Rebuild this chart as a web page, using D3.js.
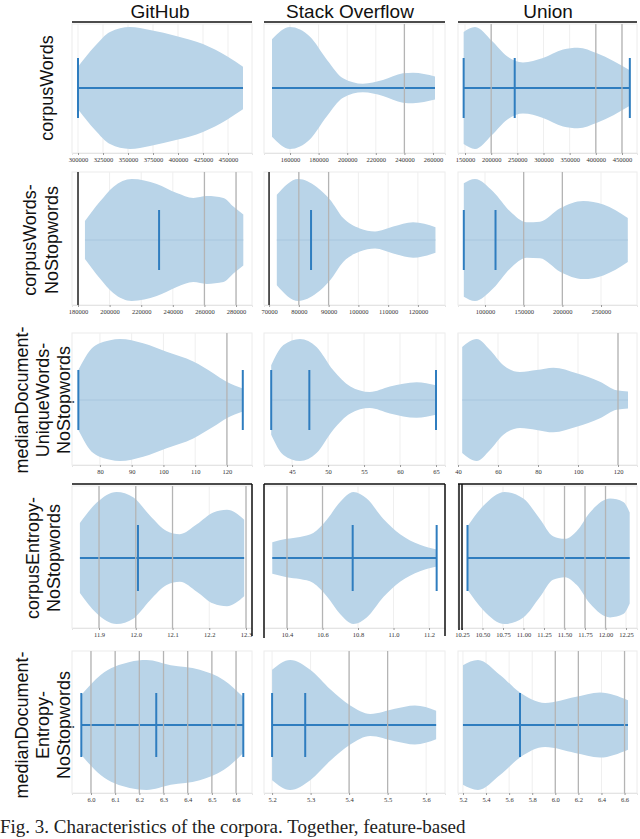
<!DOCTYPE html>
<html><head><meta charset="utf-8">
<script src="https://cdn.jsdelivr.net/npm/d3@7"></script>
<style>body{margin:0;background:#fff}</style>
</head><body><svg id="c" width="640" height="839"></svg>
<script>
const columns = ["GitHub", "Stack Overflow", "Union"];
const rowLabels = [
  ["corpusWords"],
  ["corpusWords-", "NoStopwords"],
  ["medianDocument-", "UniqueWords-", "NoStopwords"],
  ["corpusEntropy-", "NoStopwords"],
  ["medianDocument-", "Entropy-", "NoStopwords"]
];
const caption = "Fig. 3. Characteristics of the corpora. Together, feature-based";

// ---- row 1: corpusWords  [GitHub, Stack Overflow, Union]
const limitsRow1 = [[294000, 474000], [141800, 268400], [136600, 478700]];
const ticksRow1 = [["300000","325000","350000","375000","400000","425000","450000"],
                   ["160000","180000","200000","220000","240000","260000"],
                   ["150000","200000","250000","300000","350000","400000","450000"]];
const valuesRow1 = [[300000,317000,332000,352000,372000,399000,425000,449000,465000],
                    [147400,160000,174000,185900,197100,211000,225000,239000,246000,261400],
                    [147400,169100,201600,230300,260800,299000,337300,365900,402200,465000]];
const densityRow1 = [[0.35,0.69,0.92,1.0,0.95,0.85,0.72,0.52,0.35],
                     [0.8,1.0,0.84,0.46,0.16,0.07,0.13,0.24,0.25,0.19],
                     [0.92,1.0,0.77,0.52,0.42,0.49,0.63,0.66,0.57,0.29]];
const barsRow1 = [[300000], [], [147400, 245000, 465000]];
const greyRow1 = [[], [240000], [200000, 400000, 450000]];
const darkRow1 = [[], [], []];

// ---- row 2: corpusWordsNoStopwords
const limitsRow2 = [[176200, 290100], [68300, 129100], [65100, 296500]];
const ticksRow2 = [["180000","200000","220000","240000","260000","280000"],
                   ["70000","80000","90000","100000","110000","120000"],
                   ["100000","150000","200000","250000"]];
const valuesRow2 = [[184400,193900,202300,214000,229800,242500,253000,261500,272000,278300,284600],
                    [72600,79800,86000,90500,94900,100500,105600,111700,118400,125900],
                    [72600,87100,110700,132300,153900,171100,197000,227100,253000,284600]];
const densityRow2 = [[0.31,0.63,0.87,1.0,0.92,0.77,0.69,0.72,0.69,0.55,0.42],
                     [0.74,1.0,0.87,0.66,0.36,0.19,0.14,0.22,0.29,0.21],
                     [0.93,1.0,0.79,0.47,0.29,0.3,0.52,0.64,0.58,0.36]];
const barsRow2 = [[231300], [84100], [72600, 113600]];
const greyRow2 = [[260000, 280000], [80000, 90000], [150000, 200000]];
const darkRow2 = [[180000], [70000], []];

// ---- row 3: medianDocumentUniqueWordsNoStopwords
const limitsRow3 = [[71.2, 127.9], [41.1, 66.25], [40, 129.5]];
const ticksRow3 = [["80","90","100","110","120"],
                   ["45","50","55","60","65"],
                   ["40","60","80","100","120"]];
const valuesRow3 = [[73.2,77.9,83.2,86.3,93.6,101.0,109.4,115.7,119.9,125.0],
                    [42.1,43.8,46.1,48.4,50.7,53.1,55.8,58.6,62.3,65.0],
                    [42.1,49.3,56,62.7,71,79.3,87.7,99.3,111,119.3,125]];
const densityRow3 = [[0.49,0.87,0.98,1.0,0.93,0.79,0.63,0.44,0.3,0.19],
                     [0.57,0.9,1.0,0.87,0.49,0.22,0.13,0.22,0.29,0.24],
                     [0.87,1.0,0.82,0.57,0.46,0.49,0.53,0.44,0.3,0.16,0.14]];
const barsRow3 = [[73.2, 125.0], [42.1, 47.4, 65.0], []];
const greyRow3 = [[120], [], [120]];
const darkRow3 = [[], [], []];

// ---- row 4: corpusEntropyNoStopwords
const limitsRow4 = [[11.8265, 12.3163], [10.2704, 11.29], [10.2012, 12.384]];
const ticksRow4 = [["11.9","12.0","12.1","12.2","12.3"],
                   ["10.4","10.6","10.8","11.0","11.2"],
                   ["10.25","10.50","10.75","11.00","11.25","11.50","11.75","12.00","12.25"]];
const valuesRow4 = [[11.848,11.894,11.948,11.993,12.039,12.084,12.120,12.166,12.211,12.248,12.295],
                    [10.317,10.398,10.473,10.548,10.624,10.699,10.774,10.849,10.943,11.037,11.149,11.243],
                    [10.317,10.51,10.77,10.998,11.20,11.36,11.506,11.65,11.81,12.055,12.217,12.295]];
const densityRow4 = [[0.53,0.84,1.0,0.92,0.64,0.41,0.36,0.51,0.69,0.73,0.58],
                     [0.24,0.29,0.32,0.38,0.58,0.85,1.0,0.9,0.59,0.36,0.2,0.13],
                     [0.48,0.79,1.0,0.9,0.59,0.33,0.29,0.41,0.69,0.9,0.85,0.69]];
const barsRow4 = [[12.006], [10.77, 11.243], [10.317]];
const greyRow4 = [[11.9, 12.0, 12.1, 12.3], [10.4, 10.6], [11.5, 11.75, 12.0]];
const darkRow4 = [[], [], []];

// ---- row 5: medianDocumentEntropyNoStopwords
const limitsRow5 = [[5.9215, 6.666], [5.179, 5.649], [5.157, 6.708]];
const ticksRow5 = [["6.0","6.1","6.2","6.3","6.4","6.5","6.6"],
                   ["5.2","5.3","5.4","5.5","5.6"],
                   ["5.2","5.4","5.6","5.8","6.0","6.2","6.4","6.6"]];
const valuesRow5 = [[5.96,6.04,6.16,6.23,6.33,6.45,6.55,6.63],
                    [5.2,5.247,5.299,5.351,5.403,5.455,5.519,5.571,5.626],
                    [5.2,5.33,5.521,5.694,5.911,6.171,6.387,6.63]];
const densityRow5 = [[0.46,0.77,0.97,1.0,0.92,0.85,0.69,0.43],
                     [0.85,1.0,0.85,0.55,0.3,0.17,0.25,0.3,0.22],
                     [0.92,1.0,0.77,0.5,0.34,0.43,0.5,0.38]];
const barsRow5 = [[5.96, 6.27, 6.63], [5.2, 5.286], [5.694]];
const greyRow5 = [[6.0,6.1,6.2,6.3,6.4,6.5,6.6], [5.4, 5.5], [6.0, 6.2, 6.6]];
const darkRow5 = [[], [], []];

const limits = [limitsRow1, limitsRow2, limitsRow3, limitsRow4, limitsRow5];
const ticks = [ticksRow1, ticksRow2, ticksRow3, ticksRow4, ticksRow5];
const values = [valuesRow1, valuesRow2, valuesRow3, valuesRow4, valuesRow5];
const density = [densityRow1, densityRow2, densityRow3, densityRow4, densityRow5];
const bars = [barsRow1, barsRow2, barsRow3, barsRow4, barsRow5];
const greys = [greyRow1, greyRow2, greyRow3, greyRow4, greyRow5];
const darks = [darkRow1, darkRow2, darkRow3, darkRow4, darkRow5];

// ---- layout (not data)
const colRanges = [[72, 252], [264, 445], [458, 637]];
const rowGeom = [
  {top: 24, cy: 88, hw: 61, axis: 153, bar: 30, line: true},
  {top: 172, cy: 240, hw: 61, axis: 305, bar: 30, line: false},
  {top: 333, cy: 400, hw: 61, axis: 465, bar: 30, line: false},
  {top: 486, cy: 558, hw: 66, axis: 628, bar: 33, line: true},
  {top: 651, cy: 725, hw: 65, axis: 793, bar: 32, line: true}
];
const frames = [
  [["top"], ["top"], ["top"]],
  [[], [], []],
  [[], [], []],
  [["top", "right"], ["left", "top", "right"], ["left2", "top"]],
  [[], [], []]
];
const labelX = [[47], [30, 52], [22, 43, 64], [33, 54], [22, 43, 64]];
const titleX = [160, 350, 548];

const svg = d3.select("#c");
const VIOLIN = "#b9d4e8", BLUE = "#2f7dbf", GREY = "#b4b4b4";

columns.forEach((t, c) => {
  svg.append("text").attr("x", titleX[c]).attr("y", 18).attr("text-anchor", "middle")
    .attr("font-family", "Liberation Sans, Arial, sans-serif").attr("font-size", 19)
    .attr("fill", "#111").text(t);
});

rowLabels.forEach((lines, r) => {
  const g = rowGeom[r];
  lines.forEach((s, i) => {
    svg.append("text")
      .attr("transform", `translate(${labelX[r][i]},${g.cy}) rotate(-90)`)
      .attr("text-anchor", "middle").attr("dominant-baseline", "central")
      .attr("font-family", "Liberation Sans, Arial, sans-serif").attr("font-size", 18)
      .attr("fill", "#111").text(s);
  });
});

for (let r = 0; r < 5; r++) {
  const g = rowGeom[r];
  for (let c = 0; c < 3; c++) {
    const x = d3.scaleLinear().domain(limits[r][c]).range(colRanges[c]);
    const w = d3.scaleLinear().domain([0, 1]).range([0, g.hw]);
    const p = svg.append("g");
    const tv = ticks[r][c].map(Number);
    p.append("rect").attr("x", colRanges[c][0]).attr("y", g.top)
      .attr("width", colRanges[c][1] - colRanges[c][0]).attr("height", g.axis - g.top)
      .attr("fill", "none").attr("stroke", "#ececec");
    p.selectAll("line.grid").data(tv).join("line").attr("class", "grid")
      .attr("x1", d => x(d)).attr("x2", d => x(d)).attr("y1", g.top).attr("y2", g.axis)
      .attr("stroke", "#efefef");
    const pts = values[r][c].map((v, i) => ({v, d: density[r][c][i]}));
    const area = d3.area().x(d => x(d.v)).y0(d => g.cy - w(d.d)).y1(d => g.cy + w(d.d))
      .curve(d3.curveMonotoneX);
    p.append("path").datum(pts).attr("d", area).attr("fill", VIOLIN);
    const ext = d3.extent(values[r][c]);
    p.append("line").attr("x1", x(ext[0])).attr("x2", x(ext[1])).attr("y1", g.cy).attr("y2", g.cy)
      .attr("stroke", g.line ? BLUE : "#a8c6de").attr("stroke-width", g.line ? 2 : 1);
    p.selectAll("line.grey").data(greys[r][c]).join("line").attr("class", "grey")
      .attr("x1", d => x(d)).attr("x2", d => x(d)).attr("y1", g.top).attr("y2", g.axis)
      .attr("stroke", GREY).attr("stroke-width", 1.3);
    p.selectAll("line.bar").data(bars[r][c]).join("line").attr("class", "bar")
      .attr("x1", d => x(d)).attr("x2", d => x(d))
      .attr("y1", g.cy - g.bar).attr("y2", g.cy + g.bar)
      .attr("stroke", BLUE).attr("stroke-width", 2);
    p.selectAll("line.dark").data(darks[r][c]).join("line").attr("class", "dark")
      .attr("x1", d => x(d)).attr("x2", d => x(d)).attr("y1", g.top).attr("y2", g.axis)
      .attr("stroke", "#222").attr("stroke-width", 1.5);
    const ax = p.append("g").attr("transform", `translate(0,${g.axis})`)
      .call(d3.axisBottom(x).tickValues(tv).tickSize(2).tickPadding(2)
        .tickFormat((d, i) => ticks[r][c][i]));
    ax.select(".domain").attr("stroke", "#e4e4e4");
    ax.selectAll(".tick line").attr("stroke", "#999");
    ax.selectAll("text").attr("font-family", "Liberation Serif, serif").attr("font-size", 6.5)
      .attr("fill", "#333");
    const [x0, x1] = colRanges[c];
    frames[r][c].forEach(s => {
      const k = p.append("g").attr("stroke", "#111").attr("stroke-width", 1.5);
      if (s === "top") k.append("line").attr("x1", x0).attr("x2", x1).attr("y1", g.top - 2).attr("y2", g.top - 2);
      if (s === "right") k.append("line").attr("x1", x1).attr("x2", x1).attr("y1", g.top - 2).attr("y2", g.axis + 8);
      if (s === "left") k.append("line").attr("x1", x0).attr("x2", x0).attr("y1", g.top - 2).attr("y2", g.axis + 10);
      if (s === "left2") {
        k.append("line").attr("x1", x0 + 1).attr("x2", x0 + 1).attr("y1", g.top - 2).attr("y2", g.axis + 2);
        k.append("line").attr("x1", x0 + 4).attr("x2", x0 + 4).attr("y1", g.top - 2).attr("y2", g.axis + 2);
      }
    });
  }
}

svg.append("text").attr("x", 0).attr("y", 833)
  .attr("font-family", "Liberation Serif, serif").attr("font-size", 19).attr("fill", "#222")
  .text(caption);
</script>
</body></html>
